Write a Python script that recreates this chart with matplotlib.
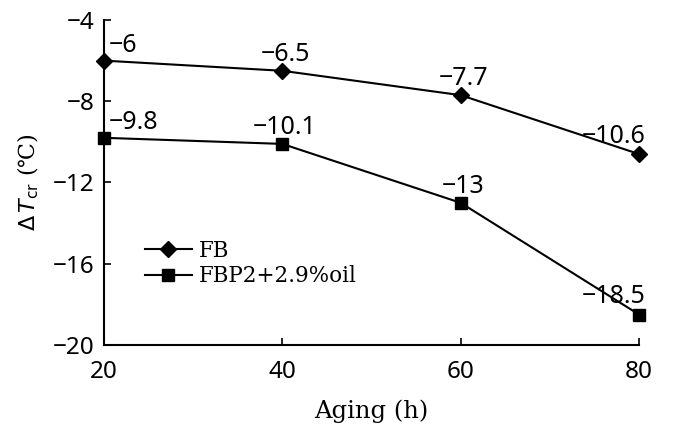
import matplotlib
matplotlib.use("Agg")
import matplotlib.pyplot as plt

aging = [20, 40, 60, 80]
fb = [-6, -6.5, -7.7, -10.6]
fbp2 = [-9.8, -10.1, -13, -18.5]
labels_fb = ["\u22126", "\u22126.5", "\u22127.7", "\u221210.6"]
labels_fbp2 = ["\u22129.8", "\u221210.1", "\u221213", "\u221218.5"]
xticks = [20, 40, 60, 80]
yticks = [-20, -16, -12, -8, -4]

fig = plt.figure(figsize=(6.73, 4.32), dpi=100)
ax = fig.add_axes([0.1545, 0.2014, 0.795, 0.7523])

ax.plot(aging, fb, color="black", lw=1.5, marker="D", ms=8.5, label="FB", clip_on=False, zorder=3)
ax.plot(aging, fbp2, color="black", lw=1.5, marker="s", ms=8.5, label="FBP2+2.9%oil", clip_on=False, zorder=3)

ax.set_xlim(20, 80)
ax.set_ylim(-20, -4)
ax.set_xticks(xticks)
ax.set_yticks(yticks)
ax.set_yticklabels([f"\u2212{abs(v)}" for v in yticks])
for s in ["top", "right"]:
    ax.spines[s].set_visible(False)
for s in ["left", "bottom"]:
    ax.spines[s].set_linewidth(1.5)
ax.tick_params(direction="in", length=5, width=1.2, labelsize=17.5)
ax.tick_params(axis="x", pad=11)
ax.tick_params(axis="y", pad=7)
for lab in ax.get_xticklabels() + ax.get_yticklabels():
    lab.set_family("Noto Sans")

def place(i, n):
    if i == 0:
        return (3.5, 6.5), "left"
    if i == n - 1:
        return (4.5, 8), "right"
    return (2, 7), "center"

for xs, ys, labs in [(aging, fb, labels_fb), (aging, fbp2, labels_fbp2)]:
    for i, (x, y, t) in enumerate(zip(xs, ys, labs)):
        off, ha = place(i, len(xs))
        ax.annotate(t, (x, y), xytext=off, textcoords="offset points",
                    ha=ha, va="baseline", fontsize=18, family="Noto Sans")

ax.set_xlabel("Aging (h)", family="DejaVu Serif", fontsize=17.5, labelpad=11)
ax.set_ylabel("$\\Delta\\,T_{\\mathrm{cr}}$ (\u2103)",
              family="DejaVu Serif", fontsize=16, labelpad=8)

leg = ax.legend(loc="upper left", bbox_to_anchor=(0.06, 0.35), frameon=False,
                prop={"family": "DejaVu Serif", "size": 15.5}, handlelength=2.2,
                handletextpad=0.3, labelspacing=0.15, borderaxespad=0)

fig.savefig("out.png", dpi=100)
